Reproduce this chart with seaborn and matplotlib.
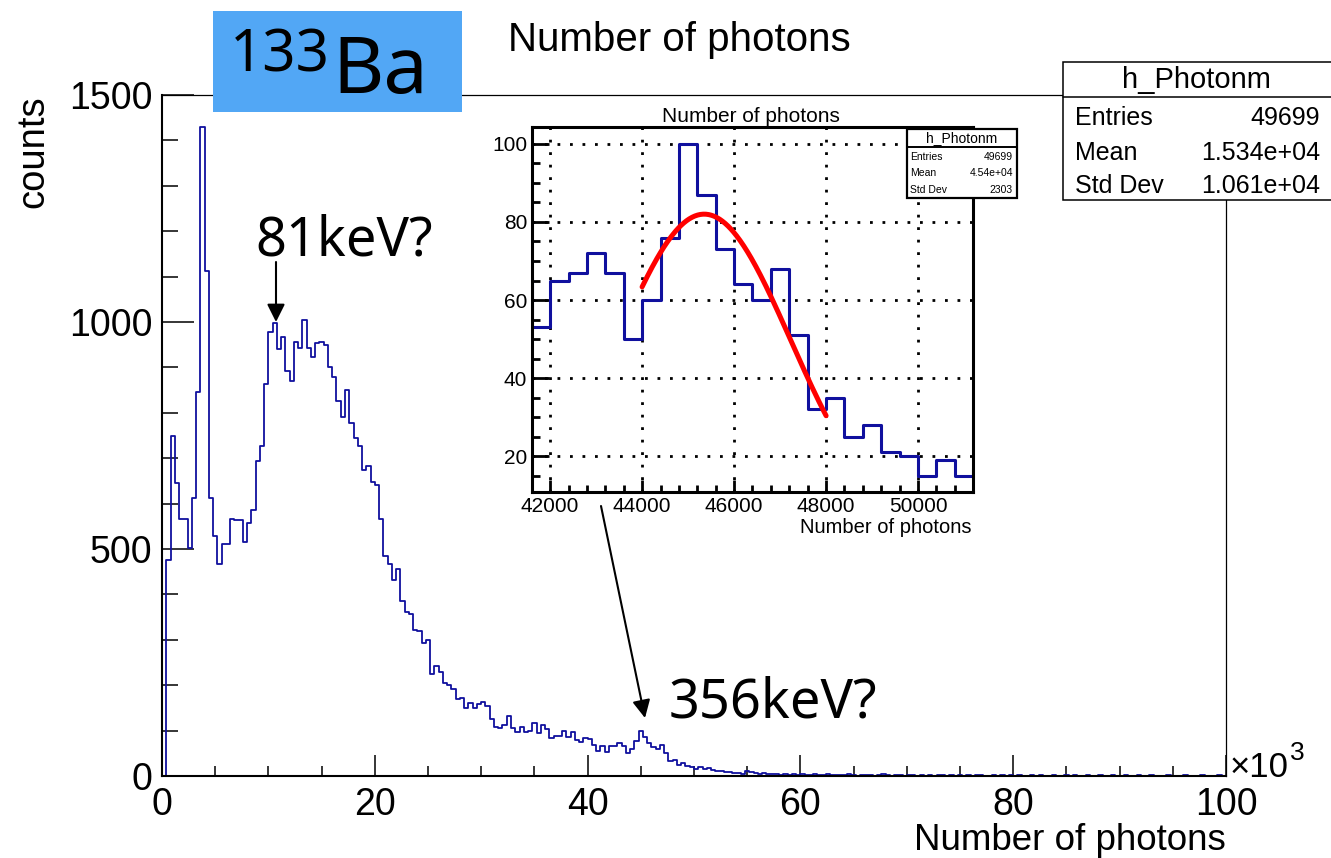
import numpy as np
import pandas as pd
import matplotlib
matplotlib.use("Agg")
import matplotlib.pyplot as plt
from matplotlib.patches import Rectangle, FancyArrowPatch
from matplotlib.lines import Line2D
from matplotlib.ticker import MultipleLocator, FuncFormatter
import seaborn as sns

# ---------------------------------------------------------------- data
# h_Photonm: number of detected photons per event, 400-photon bins, 0..100000
bin_width = 400
x_max = 100000
counts = [
    0, 475, 750, 645, 567, 567, 502, 612, 845, 1430,
    1113, 612, 529, 468, 512, 512, 565, 563, 563, 515,
    557, 586, 694, 726, 863, 978, 998, 940, 968, 893,
    870, 955, 942, 1005, 943, 924, 954, 956, 949, 901,
    879, 825, 791, 851, 778, 744, 726, 673, 683, 648,
    641, 565, 484, 467, 432, 455, 385, 362, 357, 321,
    320, 294, 299, 224, 242, 228, 204, 200, 192, 169,
    172, 149, 160, 149, 158, 164, 154, 125, 109, 106,
    112, 133, 106, 96, 109, 97, 100, 116, 94, 112,
    103, 83, 89, 88, 99, 87, 98, 79, 74, 83,
    81, 68, 56, 66, 53, 65, 67, 72, 67, 50,
    60, 76, 100, 87, 73, 64, 60, 68, 51, 32,
    35, 25, 28, 21, 20, 15, 19, 15, 17, 13,
    12, 10, 9, 8, 7, 6, 5, 12, 8, 6,
    5, 6, 4, 5, 4, 3, 5, 3, 4, 3,
    4, 2, 3, 5, 3, 2, 4, 3, 2, 3,
    2, 4, 2, 1, 3, 2, 3, 1, 2, 4,
    2, 1, 3, 2, 1, 2, 3, 1, 2, 1,
    3, 1, 2, 2, 1, 3, 1, 2, 1, 2,
    1, 2, 3, 1, 1, 2, 1, 3, 1, 2,
    1, 2, 1, 1, 2, 1, 3, 1, 1, 2,
    1, 1, 2, 1, 2, 1, 1, 3, 1, 1,
    2, 1, 1, 2, 1, 1, 2, 1, 1, 2,
    1, 1, 2, 1, 1, 1, 2, 1, 1, 1,
    2, 1, 1, 1, 2, 1, 1, 1, 2, 1,
]
edges = np.arange(0, x_max + bin_width, bin_width)
hist_df = pd.DataFrame({"photons": edges[:-1] + bin_width / 2,
                        "counts": np.asarray(counts, dtype=float)})

# Gaussian fit of the 356 keV region
fit_amp = 82.0
fit_mean = 45350.0
fit_sigma = 1880.0
fit_lo, fit_hi = 44000, 48000

# zoomed view limits
zoom_xlim = (41600, 51200)
zoom_ylim = (10.9, 104.4)

main_stats = [("Entries", "49699"), ("Mean", "1.534e+04"), ("Std Dev", "1.061e+04")]
zoom_stats = [("Entries", "49699"), ("Mean", "4.54e+04"), ("Std Dev", "2303")]
hist_name = "h_Photonm"
title = "Number of photons"
y_title = "counts"

# ---------------------------------------------------------------- style
sns.set_style("white")
plt.rcParams["font.family"] = ["Liberation Sans", "DejaVu Sans"]
for key in ("text.color", "axes.labelcolor", "xtick.color", "ytick.color",
            "axes.edgecolor"):
    plt.rcParams[key] = "black"

W, H = 1331, 858
fig = plt.figure(figsize=(W / 100, H / 100), dpi=100)


def fx(px):
    return px / W


def fy(py):
    return 1 - py / H


hist_color = "#10109e"


def draw_hist(target, lw):
    sns.histplot(data=hist_df, x="photons", weights="counts", binwidth=bin_width,
                 binrange=(0, x_max), element="step", fill=False,
                 color=hist_color, linewidth=lw, ax=target)


# ---------------------------------------------------------------- main pad
ax = fig.add_axes([fx(162), fy(776), (1226 - 162) / W, (776 - 95) / H])
draw_hist(ax, 1.3)
ax.set_xlim(0, x_max)
ax.set_ylim(0, 1500)
ax.set_xlabel("")
ax.set_ylabel("")
ax.yaxis.set_major_locator(MultipleLocator(500))
ax.yaxis.set_minor_locator(MultipleLocator(100))
ax.xaxis.set_major_locator(MultipleLocator(20000))
ax.xaxis.set_minor_locator(MultipleLocator(5000))
ax.xaxis.set_major_formatter(FuncFormatter(lambda v, _: f"{v / 1000:g}"))
ax.tick_params(axis="y", which="major", direction="in", length=23, width=1.1,
               labelsize=27, pad=7, left=True)
ax.tick_params(axis="y", which="minor", direction="in", length=11.5, width=1.1, left=True)
ax.tick_params(axis="x", which="major", direction="in", length=15, width=1.1,
               labelsize=27, pad=8, bottom=True)
ax.tick_params(axis="x", which="minor", direction="in", length=7, width=1.1, bottom=True)
for side in ("left", "bottom"):
    ax.spines[side].set_linewidth(1.5)
for side in ("top", "right"):
    ax.spines[side].set_linewidth(0.9)
    ax.spines[side].set_visible(True)
for s in ax.spines.values():
    s.set_color("black")

fig.text(fx(679), fy(40), title, ha="center", va="center", fontsize=29)
fig.text(fx(1226), fy(850), title, ha="right", va="baseline", fontsize=26.5)
fig.text(fx(33), fy(95), y_title, ha="center", va="top", rotation=90, fontsize=27.5)
fig.text(fx(1230), fy(777), "\u00d710", ha="left", va="baseline", fontsize=25)
fig.text(fx(1290), fy(760), "3", ha="left", va="baseline", fontsize=19)

# statistics box of the main histogram
fig.patches.append(Rectangle((fx(1063), fy(200)), (1345 - 1063) / W, (200 - 62) / H,
                             transform=fig.transFigure, facecolor="white",
                             edgecolor="black", linewidth=1.1, zorder=2))
fig.add_artist(Line2D([fx(1063), fx(1331)], [fy(97), fy(97)], color="black",
                      linewidth=1.1, transform=fig.transFigure, zorder=3))
fig.text(fx(1196), fy(80), hist_name, ha="center", va="center", fontsize=21, zorder=4)
for (lab, val), yy in zip(main_stats, (118, 153, 186)):
    fig.text(fx(1075), fy(yy), lab, ha="left", va="center", fontsize=18, zorder=4)
    fig.text(fx(1320), fy(yy), val, ha="right", va="center", fontsize=18, zorder=4)

# ---------------------------------------------------------------- zoomed pad
axi = fig.add_axes([fx(531.7), fy(491.7), (973.3 - 531.7) / W, (491.7 - 126.7) / H])
axi.set_facecolor("white")
draw_hist(axi, 2.2)
fit_x = np.linspace(fit_lo, fit_hi, 200)
fit_y = fit_amp * np.exp(-0.5 * ((fit_x - fit_mean) / fit_sigma) ** 2)
sns.lineplot(x=fit_x, y=fit_y, color="red", linewidth=3.6, ax=axi)
axi.set_xlim(*zoom_xlim)
axi.set_ylim(*zoom_ylim)
axi.set_xlabel("")
axi.set_ylabel("")
axi.xaxis.set_major_locator(MultipleLocator(2000))
axi.xaxis.set_minor_locator(MultipleLocator(400))
axi.yaxis.set_major_locator(MultipleLocator(20))
axi.yaxis.set_minor_locator(MultipleLocator(5))
axi.grid(True, which="major", color="black", linestyle=(0, (1, 3.5)), linewidth=2)
axi.tick_params(axis="y", which="major", direction="in", length=12, width=2,
                labelsize=15, pad=3.2, left=True)
axi.tick_params(axis="y", which="minor", direction="in", length=5.5, width=2, left=True)
axi.tick_params(axis="x", which="major", direction="in", length=9, width=2,
                labelsize=15, pad=4, bottom=True)
axi.tick_params(axis="x", which="minor", direction="in", length=5, width=2, bottom=True)
for s in axi.spines.values():
    s.set_linewidth(2.2)
    s.set_color("black")
    s.set_visible(True)

fig.text(fx(751), fy(117), title, ha="center", va="center", fontsize=15)
fig.text(fx(971), fy(533), title, ha="right", va="baseline", fontsize=14.5)

# statistics box of the zoomed view
fig.patches.append(Rectangle((fx(906.7), fy(198)), (1017 - 906.7) / W, (198 - 129.3) / H,
                             transform=fig.transFigure, facecolor="white",
                             edgecolor="black", linewidth=1.6, zorder=2))
fig.add_artist(Line2D([fx(906.7), fx(1017)], [fy(146.7), fy(146.7)], color="black",
                      linewidth=1.4, transform=fig.transFigure, zorder=3))
fig.text(fx(962), fy(138), hist_name, ha="center", va="center", fontsize=10, zorder=4)
for (lab, val), yy in zip(zoom_stats, (157, 173, 190)):
    fig.text(fx(910), fy(yy), lab, ha="left", va="center", fontsize=7.5, zorder=4)
    fig.text(fx(1013), fy(yy), val, ha="right", va="center", fontsize=7.5, zorder=4)

# ---------------------------------------------------------------- labels
fig.patches.append(Rectangle((fx(213), fy(112)), (462 - 213) / W, (112 - 11) / H,
                             transform=fig.transFigure, facecolor="#52a7f5",
                             edgecolor="none", zorder=2))
label_font = ["Noto Sans", "DejaVu Sans"]
fig.text(fx(230), fy(72), "133", ha="left", va="baseline", fontsize=42,
         family=label_font, fontweight="light", zorder=4)
fig.text(fx(332), fy(93), "Ba", ha="left", va="baseline", fontsize=57,
         family=label_font, fontweight="light", zorder=4)

fig.text(fx(255), fy(255), "81keV?", ha="left", va="baseline", fontsize=39,
         family=label_font, fontweight="light", zorder=4)
fig.text(fx(669), fy(718), "356keV?", ha="left", va="baseline", fontsize=39,
         family=label_font, fontweight="light", zorder=4)

for (x0, y0), (x1, y1) in (((276, 262), (276, 322)), ((601, 506), (645, 718))):
    fig.add_artist(FancyArrowPatch((fx(x0), fy(y0)), (fx(x1), fy(y1)),
                                   transform=fig.transFigure, arrowstyle="-|>",
                                   mutation_scale=27, linewidth=1.5, color="black",
                                   shrinkA=0, shrinkB=0, zorder=5))

fig.savefig("out.png", dpi=100)
